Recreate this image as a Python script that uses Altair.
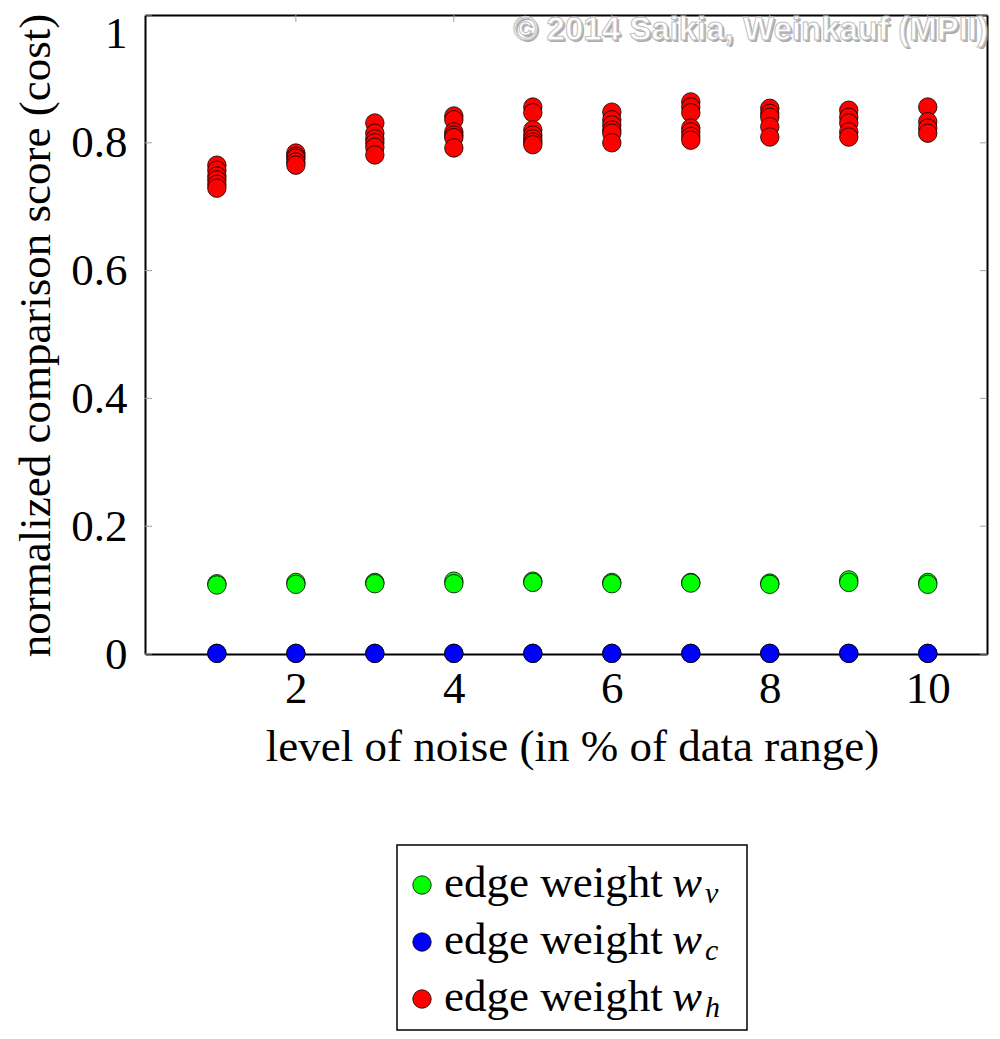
import altair as alt
import pandas as pd

# ---------------- data ----------------
noise_levels = [1, 2, 3, 4, 5, 6, 7, 8, 9, 10]

green_values = [
    [0.110, 0.108], [0.112, 0.109], [0.112, 0.110], [0.114, 0.110], [0.114, 0.112],
    [0.112, 0.110], [0.112, 0.111], [0.111, 0.109], [0.116, 0.112], [0.112, 0.109],
]
blue_values = [
    [0.001, 0.001], [0.001, 0.001], [0.001, 0.001], [0.001, 0.001], [0.001, 0.001],
    [0.001, 0.001], [0.001, 0.001], [0.001, 0.001], [0.001, 0.001], [0.001, 0.001],
]
red_values = [
    [0.765, 0.757, 0.748, 0.742, 0.735, 0.729],
    [0.784, 0.779, 0.776, 0.770, 0.765],
    [0.831, 0.815, 0.806, 0.800, 0.793, 0.781],
    [0.842, 0.836, 0.817, 0.812, 0.808, 0.792],
    [0.856, 0.847, 0.820, 0.812, 0.806, 0.801, 0.797],
    [0.848, 0.836, 0.828, 0.820, 0.815, 0.800],
    [0.864, 0.856, 0.847, 0.823, 0.817, 0.810, 0.804],
    [0.854, 0.846, 0.840, 0.825, 0.809],
    [0.851, 0.840, 0.831, 0.817, 0.809],
    [0.856, 0.833, 0.823, 0.815],
]

series_names = ["w_v", "w_c", "w_h"]
series_colors = ["#00ff00", "#0000ff", "#ff0000"]
legend_prefix = "edge weight"
legend_letter = "w"
legend_subscripts = ["v", "c", "h"]

x_ticks = [2, 4, 6, 8, 10]
y_ticks = [0, 0.2, 0.4, 0.6, 0.8, 1]
x_title = "level of noise (in % of data range)"
y_title = "normalized comparison score (cost)"
watermark = "© 2014 Saikia, Weinkauf (MPII)"

# ---------------- tables ----------------
rows = []
for name, values in zip(series_names, [green_values, blue_values, red_values]):
    for x, ys in zip(noise_levels, values):
        for y in ys:
            rows.append({"noise": x, "score": y, "series": name})
df = pd.DataFrame(rows)

xtick_df = pd.DataFrame({"t": x_ticks})
ytick_df = pd.DataFrame({"t": y_ticks})
legend_df = pd.DataFrame({
    "series": series_names,
    "row": list(range(len(series_names))),
    "prefix": [legend_prefix] * len(series_names),
    "letter": [legend_letter] * len(series_names),
    "sub": legend_subscripts,
})
one_df = pd.DataFrame({"label": [watermark]})

W, H = 842, 639
SERIF = "Liberation Serif"
FS = 45

xscale = alt.Scale(domain=[0.09, 10.75], nice=False, zero=False)
yscale = alt.Scale(domain=[0, 1], nice=False, zero=False)
color_scale = alt.Scale(domain=series_names, range=series_colors)

# ---------------- tick marks (inside, gray) ----------------
tick_color = "#a0a0a0"
xt_bottom = alt.Chart(xtick_df).mark_rule(color=tick_color, strokeWidth=1).encode(
    x=alt.X("t:Q", scale=xscale, axis=None),
    y=alt.value(H), y2=alt.value(H - 7),
)
xt_top = alt.Chart(xtick_df).mark_rule(color=tick_color, strokeWidth=1).encode(
    x=alt.X("t:Q", scale=xscale,
            axis=alt.Axis(orient="top", labels=False, ticks=False, tickSize=0,
                          domain=True, title=None, grid=False)),
    y=alt.value(0), y2=alt.value(7),
)
yt_left = alt.Chart(ytick_df).mark_rule(color=tick_color, strokeWidth=1).encode(
    y=alt.Y("t:Q", scale=yscale, axis=None),
    x=alt.value(0), x2=alt.value(7),
)
yt_right = alt.Chart(ytick_df).mark_rule(color=tick_color, strokeWidth=1).encode(
    y=alt.Y("t:Q", scale=yscale,
            axis=alt.Axis(orient="right", labels=False, ticks=False, tickSize=0,
                          domain=True, title=None, grid=False)),
    x=alt.value(W), x2=alt.value(W - 7),
)

# ---------------- points ----------------
points = alt.Chart(df).mark_circle(size=340, stroke="black", strokeWidth=0.8, opacity=1).encode(
    x=alt.X("noise:Q", scale=xscale,
            axis=alt.Axis(orient="bottom", values=x_ticks, ticks=False, tickSize=0,
                          labelPadding=48, labelBaseline="alphabetic", format="d",
                          title=x_title, titleX=427, titleY=106,
                          titleBaseline="alphabetic", titleAlign="center", grid=False)),
    y=alt.Y("score:Q", scale=yscale,
            axis=alt.Axis(orient="left", values=y_ticks, ticks=False, tickSize=0,
                          labelPadding=18, format="~g",
                          labelOffset={"condition": {"test": "datum.value === 1", "value": 18},
                                       "value": 0},
                          title=y_title, titleX=-96, titleY=320, titleAngle=270,
                          titleBaseline="alphabetic", titleAlign="center", grid=False)),
    color=alt.Color("series:N", scale=color_scale, legend=None),
)

# ---------------- watermark ----------------
wm_shadow = alt.Chart(one_df).mark_text(
    font="Liberation Sans", fontWeight="bold", fontSize=33, align="right",
    baseline="alphabetic", color="#8a8a8a", opacity=0.7, dx=2, dy=2,
).encode(x=alt.value(843), y=alt.value(25), text="label:N")
wm_text = alt.Chart(one_df).mark_text(
    font="Liberation Sans", fontWeight="bold", fontSize=33, align="right",
    baseline="alphabetic", color="white", stroke="#c0c0c0", strokeWidth=1,
).encode(x=alt.value(843), y=alt.value(25), text="label:N")

# ---------------- legend ----------------
leg_y = alt.Y("row:Q", scale=alt.Scale(domain=[0, 2], range=[870, 984]), axis=None)

leg_box = alt.Chart(one_df).mark_rect(fill="white", stroke="black", strokeWidth=1.5).encode(
    x=alt.value(252), x2=alt.value(602), y=alt.value(830), y2=alt.value(1015),
)
leg_sym = alt.Chart(legend_df).mark_circle(size=340, stroke="black", strokeWidth=0.8, opacity=1).encode(
    x=alt.value(277), y=leg_y,
    color=alt.Color("series:N", scale=color_scale, legend=None),
)
leg_txt = alt.Chart(legend_df).mark_text(
    font=SERIF, fontSize=45, align="left", baseline="alphabetic", dy=12, color="black",
).encode(x=alt.value(299), y=leg_y, text="prefix:N")
leg_w = alt.Chart(legend_df).mark_text(
    font=SERIF, fontSize=45, fontStyle="italic", align="left", baseline="alphabetic",
    dy=12, color="black",
).encode(x=alt.value(527), y=leg_y, text="letter:N")
leg_sub = alt.Chart(legend_df).mark_text(
    font=SERIF, fontSize=30, fontStyle="italic", align="left", baseline="alphabetic",
    dy=18, color="black",
).encode(x=alt.value(560), y=leg_y, text="sub:N")

chart = alt.layer(
    xt_bottom, xt_top, yt_left, yt_right, points,
    wm_shadow, wm_text,
    leg_box, leg_sym, leg_txt, leg_w, leg_sub,
).resolve_scale(
    y="independent"
).resolve_axis(
    x="independent", y="independent"
).properties(
    width=W, height=H,
    autosize=alt.AutoSizeParams(type="none"),
    padding={"left": 137, "top": 7, "right": 5, "bottom": 381},
).configure_view(
    stroke=None
).configure_axis(
    labelFont=SERIF, labelFontSize=FS, labelColor="black",
    titleFont=SERIF, titleFontSize=FS, titleFontWeight="normal", titleColor="black",
    domainColor="black", domainWidth=2, grid=False,
)

chart.save("out.html", embed_options={"renderer": "svg", "actions": False})
